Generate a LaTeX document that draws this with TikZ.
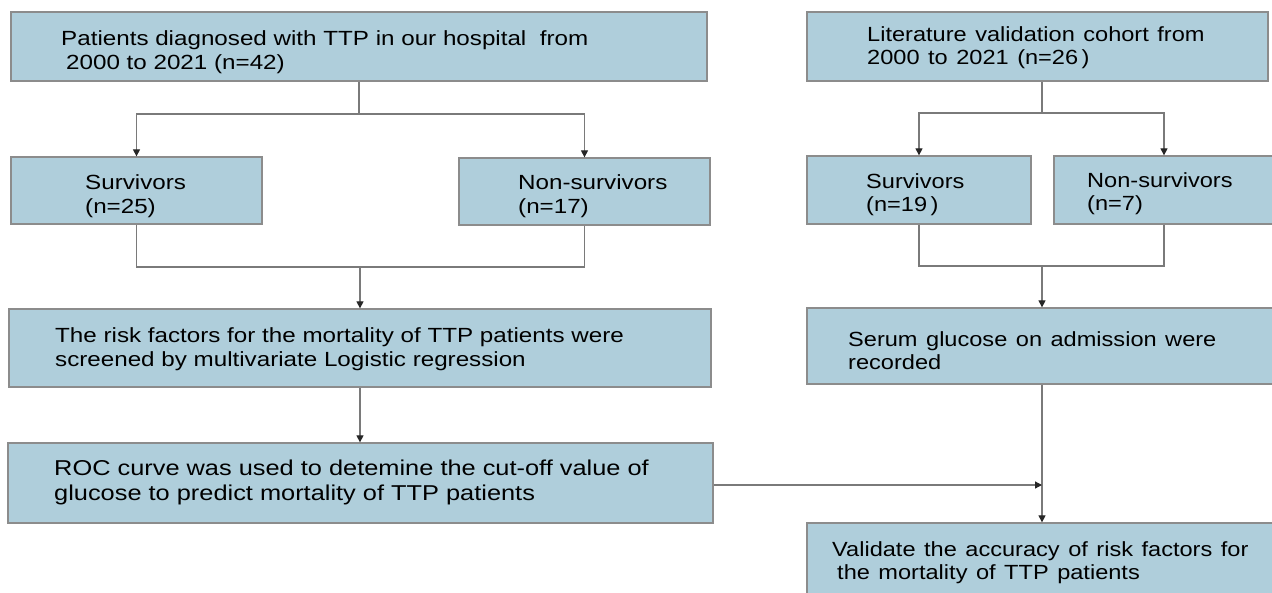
\documentclass[tikz,border=0pt]{standalone}
\usepackage{fontspec}
\setmainfont{Liberation Sans}[FakeStretch=1.18]
\newfontfamily\rightfont{Liberation Sans}[FakeStretch=1.15,WordSpace=1.3]
\usetikzlibrary{arrows.meta,calc}
\definecolor{boxblue}{HTML}{AFCEDB}
\definecolor{boxedge}{HTML}{8C8C8C}
\definecolor{linegrey}{HTML}{7A7A7A}
\tikzset{
  box/.style={draw=boxedge, line width=1.3pt, fill=boxblue, rectangle, inner sep=0pt},
  conn/.style={draw=linegrey, line width=1.2pt},
  arr/.style={conn, -{Triangle[length=7pt,width=7pt,fill=black!85,color=black!85]}},
  lbl/.style={anchor=base west, inner sep=0pt, align=left, text=black,
              font=\fontsize{20.5}{24}\selectfont},
  biglbl/.style={lbl, font=\fontsize{21.5}{25}\selectfont},
  rlbl/.style={lbl, font=\rightfont\fontsize{20.5}{23.5}\selectfont}
}
\begin{document}
\begin{tikzpicture}[x=1pt,y=-1pt]
\useasboundingbox[fill=white] (0,0) rectangle (1272,592);
% boxes (pixel coordinates)
\node[box, minimum width=696pt, minimum height=69pt] (A) at (359,46.5) {};
\node[box, minimum width=461pt, minimum height=69pt] (L) at (1037.5,46.5) {};
\node[box, minimum width=251pt, minimum height=67pt] (S1) at (136.5,190.5) {};
\node[box, minimum width=251pt, minimum height=67pt] (N1) at (584.5,191.5) {};
\node[box, minimum width=702pt, minimum height=78pt] (R) at (360,348) {};
\node[box, minimum width=705pt, minimum height=80pt] (ROC) at (360.5,483) {};
\node[box, minimum width=224pt, minimum height=68pt] (S2) at (919,190) {};
\node[box, minimum width=220pt, minimum height=68pt] (N2) at (1164,190) {};
\node[box, minimum width=467pt, minimum height=76pt] (SG) at (1040.5,346) {};
\node[box, minimum width=467pt, minimum height=74pt] (V) at (1040.5,560) {};
% texts (anchor = baseline of the last line)
\node[lbl] (tA) at (61,69) {Patients diagnosed with TTP in our hospital\ \ from\\\hspace{5pt}2000 to 2021 (n=42)};
\node[rlbl] (tL) at (867,64.5) {Literature validation cohort from\\2000 to 2021 (n=26\,)};
\node[lbl] (tS1) at (85,213) {Survivors\\(n=25)};
\node[lbl] (tN1) at (518,213) {Non-survivors\\(n=17)};
\node[lbl] (tR) at (55,366) {The risk factors for the mortality of TTP patients were\\screened by multivariate Logistic regression};
\node[biglbl] (tROC) at (54,500) {ROC curve was used to detemine the cut-off value of\\glucose to predict mortality of TTP patients};
\node[rlbl] (tS2) at (866,211.5) {Survivors\\(n=19\,)};
\node[rlbl] (tN2) at (1087,210.5) {Non-survivors\\(n=7)};
\node[rlbl] (tSG) at (848,369.5) {Serum glucose on admission were\\recorded};
\node[rlbl] (tV) at (832,579.5) {Validate the accuracy of risk factors for\\\hspace{5pt}the mortality of TTP patients};
% connectors left
\coordinate (jA) at (359,114);
\coordinate (jB) at (360,267);
\draw[conn] (A.south) -- (jA);
\draw[arr] (jA) -| (S1.north);
\draw[arr] (jA) -| (N1.north);
\draw[conn] (S1.south) |- (jB);
\draw[conn] (N1.south) |- (jB);
\draw[arr] (jB) -- (R.north);
\draw[arr] (R.south) -- (R.south |- ROC.north);
% connectors right
\coordinate (jC) at (1042,113);
\coordinate (jD) at (1042,266);
\coordinate (jE) at (1042,485);
\draw[conn] (L.south -| jC) -- (jC);
\draw[arr] (jC) -| (S2.north);
\draw[arr] (jC) -| (N2.north);
\draw[conn] (S2.south) |- (jD);
\draw[conn] (N2.south) |- (jD);
\draw[arr] (jD) -- (SG.north -| jD);
\draw[arr] (SG.south -| jD) -- (V.north -| jD);
\draw[arr] (ROC.east |- jE) -- (jE);
\end{tikzpicture}
\end{document}
